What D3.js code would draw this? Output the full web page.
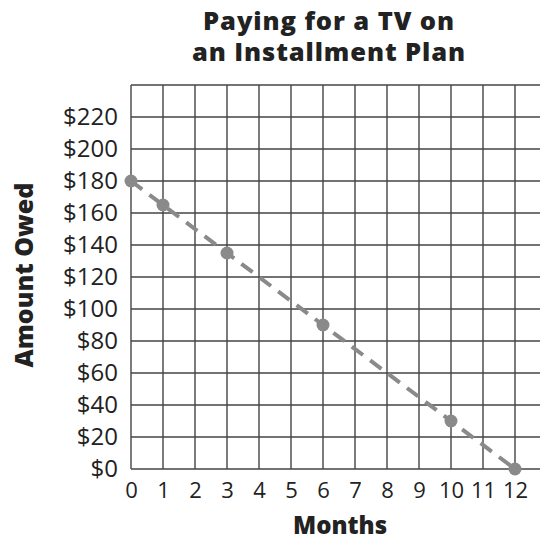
<!DOCTYPE html>
<html><head><meta charset="utf-8">
<script src="https://cdn.jsdelivr.net/npm/d3@7"></script>
<style>body{margin:0;background:#fff}svg{display:block}</style>
</head><body>
<script>
const months = [0, 1, 3, 6, 10, 12];
const owed = [180, 165, 135, 90, 30, 0];
const xTicks = [0,1,2,3,4,5,6,7,8,9,10,11,12];
const yTicks = [0,20,40,60,80,100,120,140,160,180,200,220];
const gridX = [0,1,2,3,4,5,6,7,8,9,10,11,12,13];
const gridY = [0,20,40,60,80,100,120,140,160,180,200,220,240];
const title = ["Paying for a TV on", "an Installment Plan"];

const W = 540, H = 543;
const svg = d3.select("body").append("svg").attr("width", W).attr("height", H);
const x = d3.scaleLinear().domain([0, 13]).range([131, 547]);
const y = d3.scaleLinear().domain([0, 240]).range([469, 85]);
const font = "'Open Sans', 'DejaVu Sans', sans-serif";
const bold = "'Open Sans', 'DejaVu Sans', sans-serif";

// grid
svg.append("g").selectAll("line").data(gridX).join("line")
  .attr("x1", d => x(d)).attr("x2", d => x(d)).attr("y1", y(240)).attr("y2", y(0))
  .attr("stroke", "#444").attr("stroke-width", 1.4);
svg.append("g").selectAll("line").data(gridY).join("line")
  .attr("x1", x(0)).attr("x2", W).attr("y1", d => y(d)).attr("y2", d => y(d))
  .attr("stroke", "#444").attr("stroke-width", 1.4);

// axes labels
const yAxis = d3.axisLeft(y).tickValues(yTicks).tickSize(0).tickPadding(13).tickFormat(d => "$" + d);
const gy = svg.append("g").attr("transform", `translate(${x(0)},0)`).call(yAxis);
gy.select(".domain").remove();
gy.selectAll("text").attr("font-family", font).attr("font-size", 24).attr("fill", "#222");

const xAxis = d3.axisBottom(x).tickValues(xTicks).tickSize(0).tickPadding(13).tickFormat(d3.format("d"));
const gx = svg.append("g").attr("transform", `translate(0,${y(0)})`).call(xAxis);
gx.select(".domain").remove();
gx.selectAll("text").attr("font-family", font).attr("font-size", 22).attr("fill", "#222");

// dashed trend line
svg.append("line")
  .attr("x1", x(months[0])).attr("y1", y(owed[0]))
  .attr("x2", x(months[months.length - 1])).attr("y2", y(owed[owed.length - 1]))
  .attr("stroke", "#8a8a8a").attr("stroke-width", 4).attr("stroke-dasharray", "14,9");

// points
svg.append("g").selectAll("circle").data(owed).join("circle")
  .attr("cx", (d, i) => x(months[i])).attr("cy", d => y(d)).attr("r", 6.5)
  .attr("fill", "#8a8a8a");

// title
svg.append("g").selectAll("text").data(title).join("text")
  .attr("x", 329).attr("y", (d, i) => 30 + i * 31).attr("text-anchor", "middle")
  .attr("font-family", bold).attr("font-weight", 800).attr("font-size", 25.5)
  .attr("letter-spacing", 0.9).attr("fill", "#222")
  .text(d => d);

svg.append("text").attr("x", 340).attr("y", 534).attr("text-anchor", "middle")
  .attr("font-family", bold).attr("font-weight", 800).attr("font-size", 24).attr("fill", "#222")
  .text("Months");

svg.append("text").attr("transform", "translate(33,275) rotate(-90)").attr("text-anchor", "middle")
  .attr("font-family", bold).attr("font-weight", 800).attr("font-size", 25).attr("fill", "#222")
  .text("Amount Owed");
</script>
</body></html>
